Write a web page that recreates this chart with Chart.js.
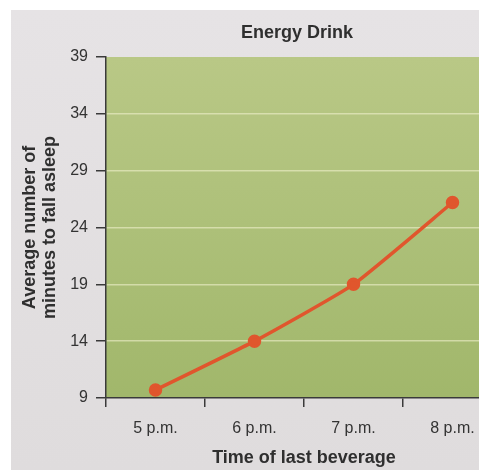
<!DOCTYPE html>
<html>
<head>
<meta charset="utf-8">
<script src="https://cdn.jsdelivr.net/npm/chart.js@4.4.1/dist/chart.umd.min.js"></script>
<style>
  html, body { margin: 0; padding: 0; background: #fff; overflow: hidden; width: 479px; height: 470px; }
  #wrap { position: absolute; left: 11px; top: 10px; }
</style>
</head>
<body>
<div id="wrap"><canvas id="myChart" width="572" height="460"></canvas></div>
<script>
var times = ["5 p.m.", "6 p.m.", "7 p.m.", "8 p.m."];
var minutesToSleep = [9.7, 14.0, 19.0, 26.2];
var yMin = 9, yMax = 39, yStep = 5;

var fontFamily = "'Liberation Sans', Arial, Helvetica, sans-serif";

var paperBg = {
  id: 'paperBg',
  beforeDraw: function (chart) {
    var ctx = chart.ctx, a = chart.chartArea;
    ctx.save();
    var bg = ctx.createLinearGradient(0, 0, 0, chart.height);
    bg.addColorStop(0, '#e6e3e5');
    bg.addColorStop(1, '#dfdcdd');
    ctx.fillStyle = bg;
    ctx.fillRect(0, 0, chart.width, chart.height);
    var g = ctx.createLinearGradient(0, a.top, 0, a.bottom);
    g.addColorStop(0, '#b9c886');
    g.addColorStop(0.5, '#adc079');
    g.addColorStop(1, '#a1b76b');
    ctx.fillStyle = g;
    ctx.fillRect(a.left, a.top, a.right - a.left, a.bottom - a.top);
    ctx.restore();
  }
};

var myChart = new Chart(document.getElementById("myChart"), {
  type: 'line',
  data: {
    labels: times,
    datasets: [{
      label: "Energy Drink",
      data: minutesToSleep,
      borderColor: '#e0562d',
      backgroundColor: '#e0562d',
      borderWidth: 3.5,
      pointRadius: 5,
      pointHoverRadius: 5,
      tension: 0.15
    }]
  },
  options: {
    responsive: false,
    animation: false,
    layout: { padding: 0 },
    plugins: {
      legend: { display: false },
      tooltip: { enabled: false },
      title: {
        display: true,
        text: 'Energy Drink',
        color: '#2f2f2f',
        font: { family: fontFamily, size: 18, weight: 'bold', lineHeight: 1.2 },
        padding: { top: 12, bottom: 13.4 }
      }
    },
    scales: {
      x: {
        type: 'category',
        offset: true,
        afterFit: function (scale) { scale.height = 72; },
        border: { color: '#3a3a3a', width: 1.5 },
        grid: { offset: true, drawOnChartArea: false, tickLength: 9, tickColor: '#3a3a3a', lineWidth: 1.5 },
        ticks: { color: '#333', padding: 12, font: { family: fontFamily, size: 16 } },
        title: {
          display: true,
          text: 'Time of last beverage',
          color: '#2f2f2f',
          font: { family: fontFamily, size: 18, weight: 'bold', lineHeight: 1.2 },
          padding: { top: 0, bottom: 1.2 }
        }
      },
      y: {
        min: yMin,
        max: yMax,
        afterFit: function (scale) { scale.width = 95; },
        border: { color: '#3a3a3a', width: 1.5 },
        grid: {
          tickLength: 10,
          tickColor: '#3a3a3a',
          lineWidth: 1.5,
          color: function (c) {
            if (!c.tick || c.tick.value === yMin || c.tick.value === yMax) return 'rgba(0,0,0,0)';
            return 'rgba(240,240,205,0.6)';
          }
        },
        ticks: { stepSize: yStep, color: '#333', padding: 8, font: { family: fontFamily, size: 16 } },
        title: {
          display: true,
          text: ['Average number of', 'minutes to fall asleep'],
          color: '#2f2f2f',
          font: { family: fontFamily, size: 18, weight: 'bold', lineHeight: 1.11 },
          padding: { top: 9, bottom: 0 }
        }
      },
      // empty axis on the right, off-screen, so the title centres over the plot like the print
      rightPad: {
        type: 'linear',
        position: 'right',
        afterFit: function (scale) { scale.width = 81; },
        border: { display: false },
        grid: { display: false },
        ticks: { display: false }
      }
    }
  },
  plugins: [paperBg]
});
</script>
</body>
</html>
